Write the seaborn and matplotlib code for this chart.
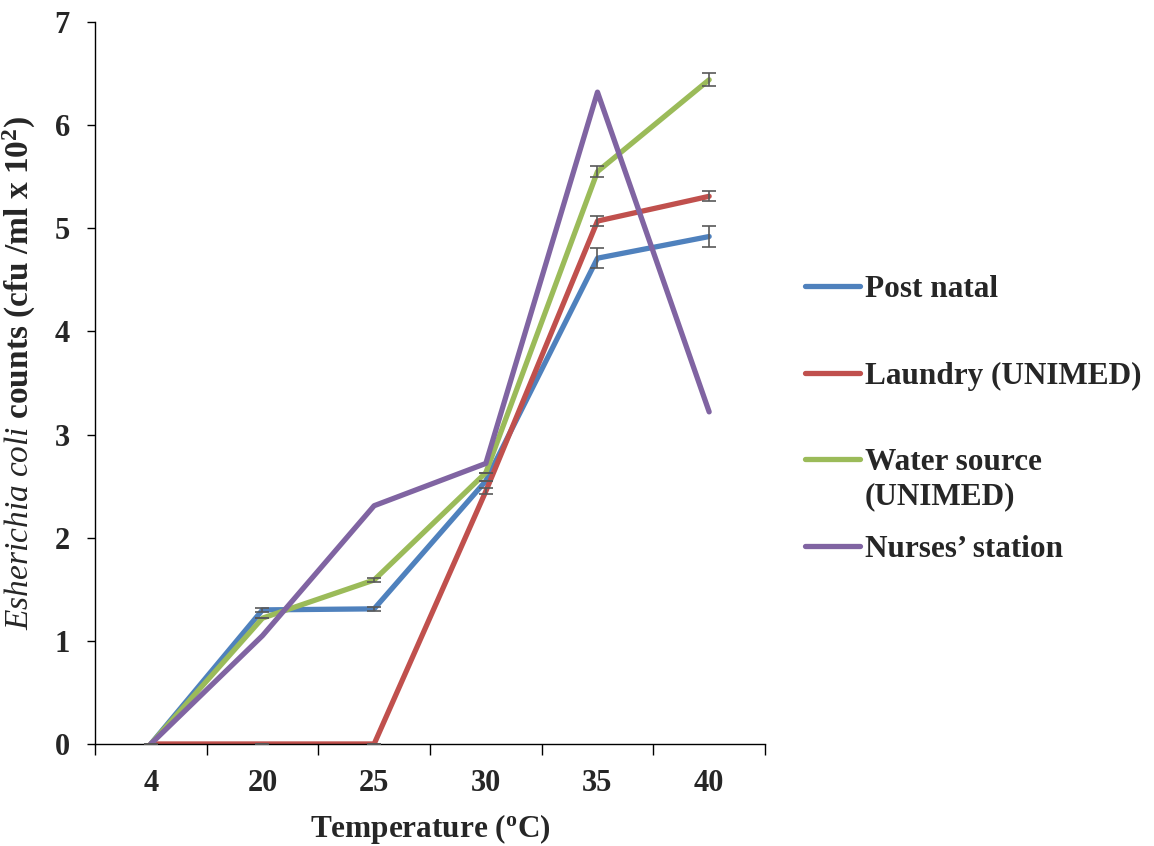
import numpy as np
import pandas as pd
import matplotlib
matplotlib.use("Agg")
import matplotlib.pyplot as plt
import seaborn as sns

# Temperatures (categories on the x axis)
temperatures = ["4", "20", "25", "30", "35", "40"]

# E. coli counts (cfu/ml x 10^2) per source
post_natal = [0.0, 1.30, 1.31, 2.55, 4.71, 4.92]
laundry = [0.0, 0.0, 0.0, 2.45, 5.07, 5.31]
water_source = [0.0, 1.22, 1.59, 2.63, 5.55, 6.44]
nurses_station = [0.0, 1.05, 2.31, 2.72, 6.32, 3.22]

# Standard errors
post_natal_err = [0.0, 0.02, 0.02, 0.0, 0.10, 0.10]
laundry_err = [0.0, 0.0, 0.0, 0.03, 0.05, 0.05]
water_source_err = [0.0, 0.0, 0.02, 0.0, 0.05, 0.065]

series_names = ["Post natal", "Laundry (UNIMED)", "Water source", "Nurses\u2019 station"]
colors = ["#4F81BD", "#C0504D", "#9BBB59", "#8064A2"]

sns.set_theme(style="white")
plt.rcParams["font.family"] = ["Liberation Serif", "DejaVu Serif"]
plt.rcParams["font.weight"] = "bold"
plt.rcParams["mathtext.fontset"] = "custom"
plt.rcParams["mathtext.rm"] = "Liberation Serif:bold"
plt.rcParams["mathtext.it"] = "Liberation Serif:style=italic:weight=normal"
plt.rcParams["mathtext.bf"] = "Liberation Serif:bold"

values = [post_natal, laundry, water_source, nurses_station]
errors = [post_natal_err, laundry_err, water_source_err, None]

df = pd.DataFrame({
    "pos": np.tile(np.arange(len(temperatures)), len(series_names)),
    "count": np.concatenate(values),
    "source": np.repeat(series_names, len(temperatures)),
})

fig = plt.figure(figsize=(11.54, 8.46), dpi=100)
ax = fig.add_axes([0.0823, 0.1206, 0.5806, 0.8534])

sns.lineplot(data=df, x="pos", y="count", hue="source", hue_order=series_names,
             palette=colors, linewidth=3.8, ax=ax, legend=False, sort=False,
             solid_joinstyle="round", solid_capstyle="round")

x = np.arange(len(temperatures))
for vals, err in zip(values, errors):
    if err is None:
        continue
    ax.errorbar(x, vals, yerr=err, fmt="none", ecolor="#595959",
                elinewidth=1.2, capsize=5, capthick=1.2, zorder=5)

ax.set_xlim(-0.5, 5.5)
ax.set_ylim(0, 7)
ax.set_yticks(range(0, 8))
ax.set_xticks(x)
ax.set_xticklabels(temperatures)
ax.set_xticks(np.arange(-0.5, 6.0, 1.0), minor=True)

for side in ["top", "right"]:
    ax.spines[side].set_visible(False)
for side in ["left", "bottom"]:
    ax.spines[side].set_color("black")
    ax.spines[side].set_linewidth(1.0)

ax.tick_params(axis="y", which="major", direction="out", length=6, width=1,
               color="black", labelsize=22, pad=12, left=True)
ax.tick_params(axis="x", which="major", length=0, labelsize=22, pad=18, bottom=True)
ax.tick_params(axis="x", which="minor", direction="out", length=8, width=1,
               color="black", bottom=True)
for lbl in ax.get_xticklabels() + ax.get_yticklabels():
    lbl.set_fontweight("bold")

ax.set_xlabel(r"Temperature ($^{\mathrm{o}}$C)", fontsize=22.5, fontweight="bold", labelpad=10)
ax.set_ylabel(r"$\mathit{Esherichia\ coli}$ counts (cfu /ml x 10$^{2}$)",
              fontsize=24, fontweight="bold", labelpad=8)
ax.yaxis.set_label_coords(-0.085, 0.514)

legend_size = 22.5
handles = [plt.Line2D([], [], color=c, linewidth=3.8, solid_capstyle="round") for c in colors]
leg = fig.legend(handles, series_names, loc="upper left",
                 bbox_to_anchor=(0.6976, 0.6753), frameon=False,
                 prop={"family": "Liberation Serif", "weight": "bold", "size": legend_size},
                 handlelength=1.76, handletextpad=0.16, labelspacing=1.85,
                 borderpad=0, borderaxespad=0)

# second line of the "Water source" entry
fig.canvas.draw()
txt = leg.get_texts()[2]
bb = txt.get_window_extent()
fig.text(bb.x0 / fig.bbox.width, (bb.y0 - 34) / fig.bbox.height, "(UNIMED)",
         fontsize=legend_size, fontweight="bold", va="bottom", ha="left")

fig.savefig("out.png", dpi=100)
